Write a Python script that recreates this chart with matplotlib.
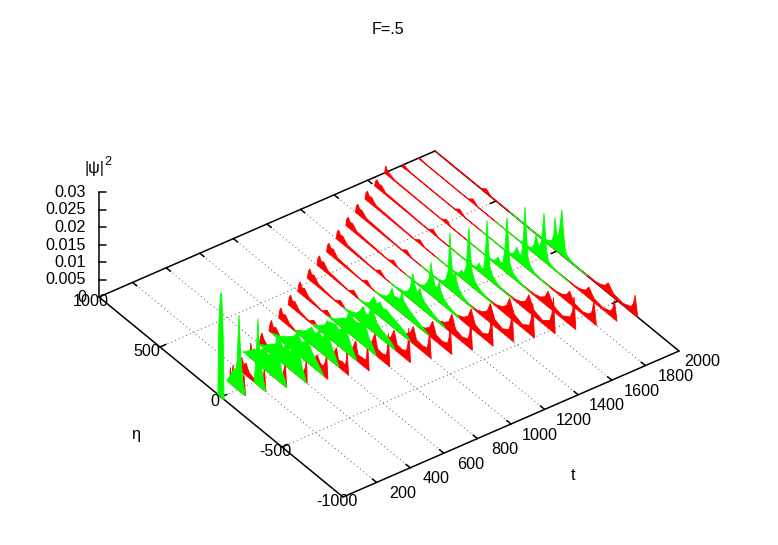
import matplotlib
matplotlib.use('Agg')
import matplotlib.pyplot as plt

plt.rcParams['font.family'] = ['Liberation Sans', 'DejaVu Sans']

# time slices, one curve pair per slice
t_slices = [0, 100, 200, 300, 400, 500, 600, 700, 800, 900, 1000,
            1100, 1200, 1300, 1400, 1500, 1600, 1700, 1800, 1900, 2000]

# red curve: eta positions and |psi|^2 in units of 1e-3
red_eta = [
    [8, 0, -8],
    [65, 62, 50, 39, 25, 0, -30, -50, -58, -62],
    [118, 105, 90, 70, 45, 10, -30, -50, -68, -80, -93],
    [177, 170, 158, 140, 115, 80, 40, 0, -40, -63, -78, -95, -115, -125],
    [236, 228, 216, 200, 175, 135, 90, 40, 0, -50, -85, -105, -125, -140, -150, -156],
    [295, 287, 275, 260, 240, 205, 175, 145, 115, 50, -20, -70, -100, -125, -150, -165, -178, -188],
    [354, 346, 334, 319, 299, 264, 214, 174, 134, 50, -10, -60, -95, -120, -137, -167, -193, -201, -206, -220],
    [413, 405, 393, 378, 358, 323, 243, 203, 163, 60, -30, -80, -115, -140, -159, -193, -222, -231, -237, -251],
    [472, 464, 452, 437, 417, 382, 272, 232, 192, 70, -50, -100, -135, -160, -182, -220, -253, -263, -269, -283],
    [531, 523, 511, 496, 476, 441, 301, 261, 221, 80, -70, -120, -155, -180, -204, -246, -282, -293, -300, -314],
    [590, 582, 570, 555, 535, 500, 330, 290, 250, 90, -90, -140, -175, -200, -226, -273, -312, -324, -332, -346],
    [649, 641, 629, 614, 594, 559, 359, 319, 279, 100, -110, -160, -195, -220, -249, -299, -342, -355, -364, -378],
    [708, 700, 688, 673, 653, 618, 388, 348, 308, 110, -130, -180, -215, -240, -271, -325, -372, -386, -395, -409],
    [767, 759, 747, 732, 712, 677, 417, 377, 337, 120, -150, -200, -235, -260, -293, -352, -402, -417, -427, -441],
    [826, 818, 806, 791, 771, 736, 446, 406, 366, 130, -170, -220, -255, -280, -316, -378, -431, -447, -458, -472],
    [885, 877, 865, 850, 830, 795, 475, 435, 395, 140, -190, -240, -275, -300, -338, -405, -462, -478, -490, -504],
    [944, 936, 924, 909, 889, 854, 504, 464, 424, 150, -210, -260, -295, -320, -360, -431, -492, -510, -522, -536],
    [1000, 990, 975, 950, 915, 533, 493, 453, 160, -230, -280, -315, -340, -383, -457, -521, -541, -553, -567],
    [1000, 985, 960, 920, 562, 522, 482, 170, -268, -318, -353, -378, -418, -487, -547, -565, -577, -599],
    [1000, 985, 950, 591, 551, 511, 180, -289, -339, -374, -399, -441, -514, -577, -596, -608, -630],
    [1000, 900, 620, 580, 540, 190, -310, -360, -395, -420, -464, -541, -607, -627, -640, -662],
]
red_z = [
    [0, 12, 0],
    [0, 4.6, 2, 6, 1.5, 1, 2, 5.7, 3, 0],
    [0, 4.2, 2.5, 3.5, 1.5, 1, 1, 3, 2, 6.5, 0],
    [0, 4.3, 2.5, 3.5, 1.5, 1, .8, .6, 1, 3, 2, 3, 6.8, 0],
    [0, 2.2, 3.8, 2.5, 1.5, .9, .9, .5, .4, .8, 3, 2, 2.5, 4, 6.8, 0],
    [0, 2.2, 3.6, 2, 2.6, 1, .4, 1.5, .5, .3, .5, 2, 4.5, 2.8, 2.7, 4.2, 6.5, 0],
    [0, 2.2, 3.4, 2, 2.4, .9, .3, 1.5, .4, .2, .3, 1.2, 2.5, 5, 1.9, 2.4, 2.1, 3.8, 7.5, 0],
    [0, 2.2, 3.3, 2, 2.4, .9, .2, 1.5, .3, .15, .3, 1.4, 2.7, 5.5, 2, 2.2, 2.2, 4, 8, 0],
    [0, 2.2, 3.3, 2, 2.4, .9, .15, 1.5, .25, .12, .4, 1.5, 3, 6, 2.2, 2, 2.5, 4.6, 9.3, 0],
    [0, 2.2, 3.2, 2, 2.4, .9, .12, 1.4, .2, .12, .4, 1.4, 2.8, 5.5, 2, 1.8, 2.5, 4.8, 9.5, 0],
    [0, 2.2, 3.2, 2, 2.4, .9, .12, 1.4, .15, .12, .4, 1.3, 2.5, 5, 1.9, 1.6, 2.1, 4, 7.9, 0],
    [0, 2.1, 3, 2, 2.3, .8, .12, 1.3, .15, .12, .4, 1.3, 2.5, 5, 1.9, 1.5, 2.2, 4.2, 8.5, 0],
    [0, 2.1, 3, 2, 2.2, .8, .12, 1.3, .12, .12, .5, 1.4, 2.7, 5.5, 2, 1.4, 2.2, 4.2, 8.5, 0],
    [0, 2.1, 2.9, 1.9, 2.1, .8, .12, 1.2, .12, .12, .5, 1.4, 2.7, 5.5, 2, 1.2, 2.3, 4.5, 9, 0],
    [0, 2, 2.8, 1.9, 2, .8, .12, 1.2, .12, .12, .5, 1.4, 2.7, 5.5, 2, 1.1, 2.3, 4.5, 9, 0],
    [0, 2, 2.8, 1.8, 2, .7, .12, 1.2, .12, .12, .5, 1.4, 2.7, 5.5, 2, 1, 2.4, 4.8, 9.5, 0],
    [0, 1.6, 2.3, 1.5, 1.7, .6, .12, 1.2, .12, .12, .5, 1.3, 2.5, 5, 1.8, .9, 2.5, 5, 10, 0],
    [0, 2.3, 1.2, .8, .3, .12, 1.2, .12, .12, .45, 1.1, 2.2, 4.5, 1.6, .8, 2.3, 4.5, 9, 0],
    [0, .9, .5, .2, .1, 1.2, .1, .1, .35, .9, 1.8, 3.5, 1.2, .7, 1.7, 3.3, 6.5, 0],
    [0, .5, .2, .1, 1.2, .1, .1, .3, .8, 1.6, 3.2, 1.1, .6, 1.4, 2.8, 5.5, 0],
    [0, .1, .1, 1.2, .1, .1, .3, .7, 1.5, 2.9, 1, .5, 1.5, 2.9, 5.7, 0],
]

# green curve, same units
green_eta = [
    [25, 18, 5, -5, -18, -25],
    [90, 60, 40, 15, 5, -2, -10, -18, -25, -40, -62],
    [5, -5, -15, -28, -38, -55, -75, -93],
    [232, 190, 140, 100, 60, 20, 0, -25, -46, -60, -85, -110, -125],
    [235, 190, 150, 110, 70, 40, 10, -15, -40, -72, -90, -110, -135, -150],
    [280, 210, 150, 100, 60, 30, 5, -16, -35, -60, -90, -120, -155],
    [225, 170, 120, 85, 50, 20, 0, -20, -42, -58, -85, -115, -140],
    [220, 170, 120, 85, 50, 20, 0, -25, -49, -65, -90, -120, -150],
    [230, 170, 130, 102, 75, 44, 15, -15, -40, -62, -80, -110, -140, -170],
    [240, 180, 130, 100, 75, 50, 25, 3, -15, -40, -80, -120, -160, -190],
    [250, 195, 160, 123, 100, 74, 50, 20, -10, -50, -90, -130, -175],
    [260, 200, 160, 135, 113, 95, 75, 50, 31, 15, -15, -50, -90, -130, -195],
    [270, 205, 160, 125, 100, 79, 62, 45, 21, 5, -15, -45, -80, -120, -190],
    [280, 210, 160, 125, 100, 82, 69, 55, 35, 18, 3, -12, -35, -70, -110, -170],
    [290, 220, 150, 110, 85, 65, 51, 40, 25, 10, -5, -20, -50, -90, -150],
    [300, 230, 150, 120, 95, 75, 55, 33, 22, 8, -15, -50, -100, -170],
    [320, 240, 160, 120, 100, 88, 70, 50, 35, 23, 12, -2, -25, -65, -110, -190],
    [330, 250, 160, 110, 90, 70, 50, 30, 12, -3, -14, -28, -50, -90, -130, -200],
    [350, 260, 170, 110, 80, 65, 52, 35, 15, 0, -13, -24, -38, -55, -90, -136, -220],
    [370, 280, 180, 110, 70, 50, 34, 15, 0, -15, -31, -42, -55, -70, -110, -190, -240],
    [385, 300, 200, 120, 70, 40, 25, 16, 5, -5, -20, -40, -52, -65, -77, -120, -200, -246],
]
green_z = [
    [0, 20, 29, 30, 18, 0],
    [0, 2.5, 4.3, 5.7, 8, 15, 21.7, 15, 10, 4, 0],
    [0, 4, 10, 19, 12, 6, 2.5, 0],
    [0, 1.5, 3.3, 4, 6, 5, 6.5, 7, 12.9, 8, 3.5, 2, 0],
    [0, 1, 2.5, 3.5, 6, 4.5, 7, 5, 6.5, 12.3, 7.5, 4, 1.5, 0],
    [0, 1, 2.5, 4, 6, 4.5, 5, 7.7, 5.5, 4, 2.8, 1.5, 0],
    [0, 1.5, 3, 5, 4, 6, 4.5, 5.5, 10.7, 6.5, 4, 2, 0],
    [0, 1, 2.5, 4.5, 5, 5.5, 4.5, 5.5, 9.4, 6, 4, 2, 0],
    [0, .7, 2, 3, 3.5, 6.9, 5, 5, 5.5, 10.8, 6.5, 3.5, 2, 0],
    [0, .5, 1.5, 3, 4.9, 3.5, 4, 8.3, 5.5, 3.5, 2.5, 2, 1.2, 0],
    [0, .5, 1.5, 4.3, 2.8, 4.2, 3, 3.5, 3, 2.5, 2, 1.5, 0],
    [0, .5, 1.3, 2.5, 4.9, 3, 3.5, 3.5, 5.9, 4, 3, 2.2, 1.6, 1, 0],
    [0, .3, .7, 1.5, 3.5, 8, 5, 3.5, 5.4, 3.5, 2.6, 2, 1.3, .8, 0],
    [0, .1, .4, 1.2, 2.8, 4.5, 9.4, 6, 3.5, 3.5, 5.7, 3.5, 2, 1.2, .7, 0],
    [0, .08, .25, .8, 2, 5, 16.3, 9, 4.5, 6.3, 4, 2.4, 1.2, .6, 0],
    [0, .08, .25, .6, 2.2, 1.8, 4.5, 16.3, 9.5, 4.5, 2.2, 1.2, .5, 0],
    [0, .05, .15, .5, 1.2, 2.4, 1.5, 1.8, 7, 16.5, 10, 3.8, 1.8, .8, .3, 0],
    [0, .05, .15, .5, 1.2, 2.5, 1.6, 2, 7, 16, 10, 3.5, 1.6, .7, .3, 0],
    [0, .05, .15, .4, 1.2, 2.5, 3.8, 2.2, 2.5, 8, 17.1, 10.5, 3.5, 1.6, .6, .3, 0],
    [0, .05, .15, .4, 1, 2.5, 5.7, 3.5, 3.5, 6.5, 13.8, 8.5, 3, 1, .4, .1, 0],
    [0, .05, .15, .4, 1, 2, 4, 9.2, 5.5, 4, 6.5, 12.9, 7.5, 3, 1.2, .4, .1, 0],
]

t_ticks = [200, 400, 600, 800, 1000, 1200, 1400, 1600, 1800]
t_tick_labels = ['200', '400', '600', '800', '1000', '1200', '1400', '1600', '1800', '2000']
eta_ticks = [500, 0, -500]
eta_tick_labels = ['1000', '500', '0', '-500', '-1000']
z_ticks = [0, 0.005, 0.01, 0.015, 0.02, 0.025, 0.03]
z_tick_labels = ['0', '0.005', '0.01', '0.015', '0.02', '0.025', '0.03']

font = 11.6


def project(t, eta, z=0):
    # gnuplot style oblique view, returns figure pixels
    u = eta + 1000
    x = 343 + t * 336 / 2000 - u * 244 / 2000
    y = 497 - t * 146 / 2000 - u * 200 / 2000 - z * 105 / 0.03
    return x, y


def seg(t0, e0, t1, e1, **kw):
    x0, y0 = project(t0, e0)
    x1, y1 = project(t1, e1)
    ax.plot([x0, x1], [y0, y1], **kw)


fig = plt.figure(figsize=(7.78, 5.45), dpi=100)
ax = fig.add_axes([0, 0, 1, 1])
ax.set_xlim(0, 778)
ax.set_ylim(545, 0)
ax.axis('off')

# floor grid
grid = dict(color='#555555', lw=0.7, dashes=(1, 3.2), zorder=1)
for t in t_ticks:
    seg(t, -1000, t, 1000, **grid)
for e in eta_ticks:
    seg(0, e, 2000, e, **grid)

# floor frame
frame = dict(color='black', lw=1.1, zorder=2, solid_capstyle='round')
seg(0, 1000, 2000, 1000, **frame)
seg(0, 1000, 0, -1000, **frame)
seg(0, -1000, 2000, -1000, **frame)
seg(2000, -1000, 2000, 1000, **frame)

# ticks on the floor frame
for t in t_ticks:
    seg(t, -1000, t, -965, **frame)
    seg(t, 1000, t, 965, **frame)
for e in eta_ticks:
    seg(0, e, 35, e, **frame)
    seg(2000, e, 1965, e, **frame)

# z axis
x0, y0 = project(0, 1000, 0)
x1, y1 = project(0, 1000, z_ticks[-1])
ax.plot([x0, x1], [y0, y1], **frame)
for z, lab in zip(z_ticks, z_tick_labels):
    x, y = project(0, 1000, z)
    if z > 0:
        ax.plot([x, x + 7], [y, y], **frame)
    ax.text(x - 13, y + 0.5, lab, ha='right', va='center', fontsize=font)

# curves, all red first and green on top
for t, e_list, z_list in zip(t_slices, red_eta, red_z, strict=True):
    pts = [project(t, e, z / 1000) for e, z in zip(e_list, z_list, strict=True)]
    ax.fill([p[0] for p in pts], [p[1] for p in pts], color='#ff0000', lw=0.6, zorder=3)
for t, e_list, z_list in zip(t_slices, green_eta, green_z, strict=True):
    pts = [project(t, e, z / 1000) for e, z in zip(e_list, z_list, strict=True)]
    ax.fill([p[0] for p in pts], [p[1] for p in pts], color='#00ff00', lw=0.6, zorder=4)

# axis tick labels
for t, lab, dx in zip(t_ticks + [2000], t_tick_labels, [26, 26, 27, 27, 29, 29, 29, 30, 30, 23]):
    x, y = project(t, -1000)
    ax.text(x + dx, y + 11, lab, ha='center', va='center', fontsize=font)
for e, lab, dx in zip([1000, 500, 0, -500, -1000], eta_tick_labels, [-8, -13, -6, -7, -6]):
    x, y = project(0, e)
    ax.text(x + dx, y + 5, lab, ha='center', va='center', fontsize=font)

ax.text(388, 30, 'F=.5', ha='center', va='center', fontsize=font)
ax.text(573, 475, 't', ha='center', va='center', fontsize=font)
ax.text(136, 434, 'η', ha='center', va='center', fontsize=font)
ax.text(95, 169, '|ψ|', ha='center', va='center', fontsize=font)
ax.text(108, 162, '2', ha='center', va='center', fontsize=9)

fig.savefig('out.png', dpi=100)
